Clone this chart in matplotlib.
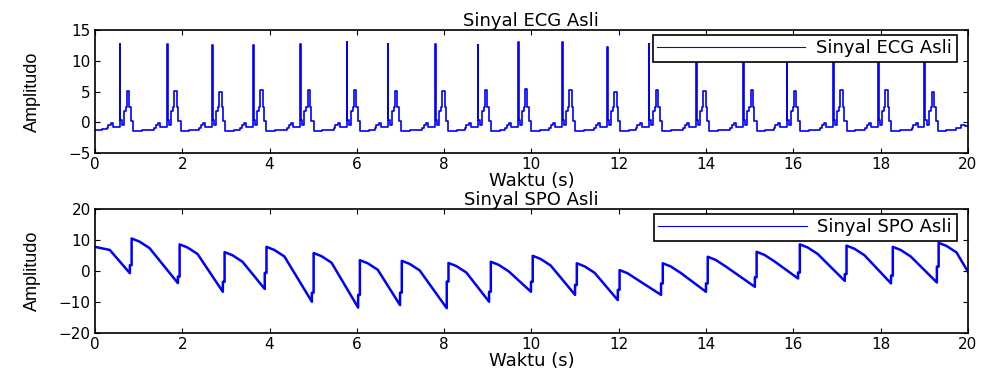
import numpy as np
import matplotlib
matplotlib.use('Agg')
import matplotlib.pyplot as plt
from matplotlib.lines import Line2D

# ECG: R-peak times, R heights and T-wave heights
ecg_r_time = [0.57, 1.65, 2.68, 3.62, 4.70, 5.77, 6.71, 7.79, 8.77, 9.69,
              10.70, 11.73, 12.69, 13.77, 14.85, 15.85, 16.91, 17.94, 19.01]
ecg_r_peak = [12.8, 12.8, 12.5, 12.6, 12.8, 13.0, 12.7, 12.8, 12.5, 13.0,
              13.1, 12.2, 12.8, 12.7, 12.6, 12.8, 12.6, 12.7, 12.6]
ecg_t_peak = [5.1, 5.1, 5.0, 5.3, 5.3, 5.3, 5.1, 5.1, 5.3, 5.4,
              5.2, 5.0, 5.2, 5.1, 5.2, 5.1, 5.2, 5.2, 5.0]
# shape of one beat, time offset from R (s) and level; 'R' / 'T' = peak of that beat
ecg_beat_dt = [-0.30, -0.26, -0.20, -0.16, -0.06, -0.005, 0.015, 0.05, 0.10,
               0.14, 0.17, 0.22, 0.26, 0.31, 0.42, 0.50, 0.58]
ecg_beat_val = [-1.0, -0.4, -0.1, -0.8, -0.7, 'R', 0.3, -0.4, 1.8,
                2.4, 'T', 2.4, 0.2, -1.5, -1.4, -1.3, -1.2]
ecg_start_t = [0.0, 0.15]
ecg_start_v = [-1.2, -1.1]
ecg_end_t = [19.72, 19.85, 19.93, 20.0]
ecg_end_v = [-0.9, -0.4, -0.6, -0.6]

# SPO: jump times, level just before the jump, intermediate step, top after jump
spo_jump_time = [0.80, 1.90, 2.93, 3.89, 4.97, 6.03, 6.99, 8.06, 9.03, 9.99,
                 11.00, 11.98, 12.97, 14.00, 15.12, 16.11, 17.18, 18.24, 19.29]
spo_bottom = [-0.7, -3.9, -6.7, -5.8, -9.9, -11.8, -11.0, -12.0, -9.9, -6.7,
              -7.7, -9.4, -7.7, -6.7, -5.1, -2.4, -3.2, -4.0, -3.7]
spo_step = [1.9, -1.8, -3.5, -0.6, -7.0, -7.7, -7.0, -3.4, -6.7, -3.5,
            -4.5, -6.1, -4.0, -4.0, -2.0, -0.5, -1.0, -1.5, 1.4]
spo_top = [10.5, 8.6, 6.1, 7.8, 5.8, 3.5, 3.3, 2.6, 3.0, 4.9,
           2.5, 0.3, 2.5, 4.6, 6.2, 8.6, 8.2, 7.8, 9.1]
# fall below the top, read at two points after each jump
spo_knee_dt = [0.22, 0.45]
spo_knee_drop = [1.0, 3.1]
spo_start_t = [0.0, 0.34]
spo_start_v = [7.8, 6.8]
spo_end_t = [20.0]
spo_end_v = [-0.2]

# build ECG polyline
ecg_t = list(ecg_start_t)
ecg_v = list(ecg_start_v)
for tr, rp, tp in zip(ecg_r_time, ecg_r_peak, ecg_t_peak):
    for dt, v in zip(ecg_beat_dt, ecg_beat_val):
        ecg_t.append(tr + dt)
        ecg_v.append(rp if v == 'R' else tp if v == 'T' else v)
ecg_t += ecg_end_t
ecg_v += ecg_end_v

# build SPO polyline
spo_t = list(spo_start_t)
spo_v = list(spo_start_v)
for tj, b, s, top in zip(spo_jump_time, spo_bottom, spo_step, spo_top):
    spo_t += [tj, tj, tj + 0.04, tj + 0.04]
    spo_v += [b, s, s, top]
    for dt, drop in zip(spo_knee_dt, spo_knee_drop):
        spo_t.append(tj + dt)
        spo_v.append(top - drop)
spo_t += spo_end_t
spo_v += spo_end_v

txt_font = 'DejaVu Sans'
lab_font = ['Liberation Sans Narrow', 'Liberation Sans', 'DejaVu Sans']

fig = plt.figure(figsize=(9.83, 3.70), dpi=100)
ax1 = fig.add_axes([0.0966, 0.5865, 0.888, 0.3324])
ax2 = fig.add_axes([0.0966, 0.100, 0.888, 0.335])


def style(ax, yticks, title, label):
    ax.set_xlim(0, 20)
    ax.set_xticks(np.arange(0, 21, 2))
    ax.set_ylim(yticks[0], yticks[-1])
    ax.set_yticks(yticks)
    ax.tick_params(direction='in', top=True, right=True, length=3.5,
                   width=0.8, labelsize=11, pad=3)
    for lab in ax.get_xticklabels() + ax.get_yticklabels():
        lab.set_family(txt_font)
    for sp in ax.spines.values():
        sp.set_linewidth(1.2)
    ax.set_title(title, fontsize=13, family=txt_font, pad=3)
    ax.set_xlabel('Waktu (s)', fontsize=13, family=txt_font, labelpad=0)
    ax.set_ylabel('Amplitudo', fontsize=13, family=lab_font)
    ax.yaxis.set_label_coords(-0.062, 0.5)
    h = Line2D([0], [0], color='#0000ff', lw=0.8)
    leg = ax.legend([h], [label], loc='upper right', bbox_to_anchor=(0.987, 0.962),
                    borderaxespad=0, fancybox=False, framealpha=1, edgecolor='black',
                    handlelength=8.2, handletextpad=0.6, borderpad=0.25,
                    prop={'family': txt_font, 'size': 13})
    leg.get_frame().set_linewidth(1.2)


ax1.plot(ecg_t, ecg_v, color='#0000ff', lw=1.2, drawstyle='steps-post')
style(ax1, [-5, 0, 5, 10, 15], 'Sinyal ECG Asli', 'Sinyal ECG Asli')

ax2.plot(spo_t, spo_v, color='#0000ff', lw=1.8)
style(ax2, [-20, -10, 0, 10, 20], 'Sinyal SPO Asli', 'Sinyal SPO Asli')

fig.savefig('out.png', dpi=100)
